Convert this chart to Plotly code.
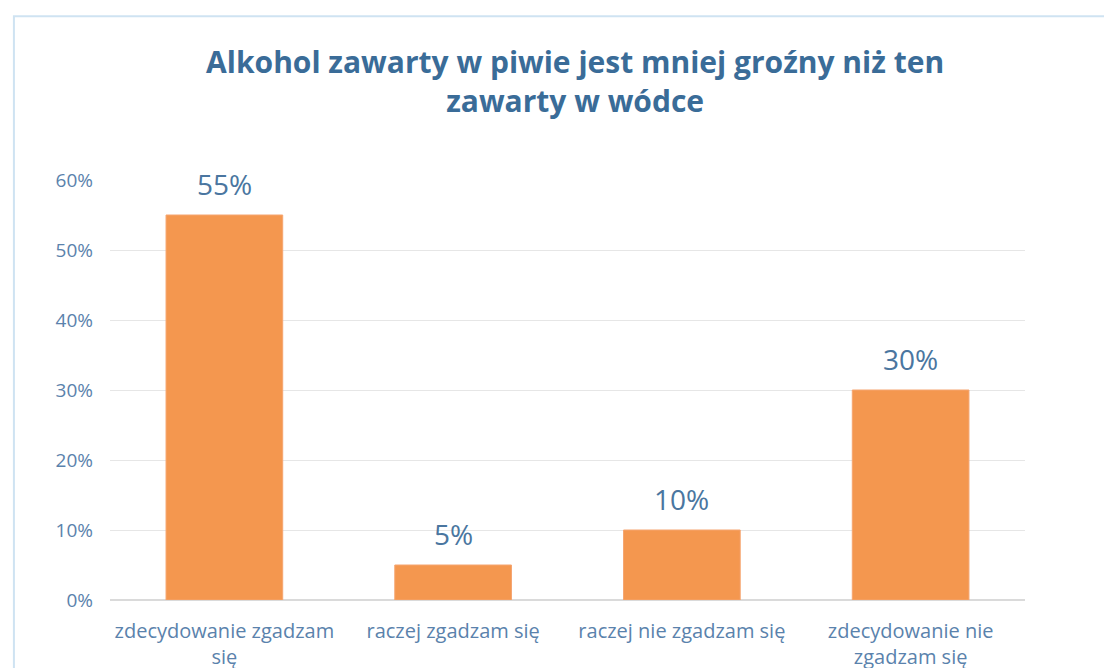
import plotly.graph_objects as go

categories = ["zdecydowanie zgadzam<br>się", "raczej zgadzam się",
              "raczej nie zgadzam się", "zdecydowanie nie<br>zgadzam się"]
shares = [0.55, 0.05, 0.10, 0.30]
tick_vals = [0, 0.1, 0.2, 0.3, 0.4, 0.5, 0.6]

blue = "#3A6C98"
label_blue = "#5A82AC"

fig = go.Figure()
fig.add_trace(go.Bar(
    x=categories, y=shares,
    marker=dict(color="#F4974F", line=dict(color="#F5A570", width=1)),
))

# value labels above bars
for c, v in zip(categories, shares):
    fig.add_annotation(x=c, y=v, text=f"{v:.0%}", showarrow=False,
                       yanchor="bottom", yshift=10,
                       font=dict(size=28, color="#4A76A0", family="Open Sans"))

fig.update_layout(
    width=1112, height=668,
    margin=dict(l=102, r=95, t=172, b=76),
    paper_bgcolor="white", plot_bgcolor="white",
    showlegend=False,
    bargap=0.49,
    title=dict(
        text="<b>Alkohol zawarty w piwie jest mniej groźny niż ten<br>zawarty w wódce</b>",
        x=0.51, xanchor="center", y=0.902, yanchor="middle",
        font=dict(family="Open Sans", size=30, color=blue),
    ),
    font=dict(family="Open Sans"),
)
fig.update_yaxes(
    range=[0, 0.6], tickvals=tick_vals, tickformat=".0%",
    showgrid=True, gridcolor="#E6E6E6", zeroline=True, zerolinecolor="#DADADA",
    tickfont=dict(size=19, color=label_blue), ticks="",
    ticklabelstandoff=16, showline=False, automargin=False,
)
fig.update_xaxes(
    tickfont=dict(size=20, color=label_blue), showline=False, ticks="",
    ticklabelstandoff=17, automargin=False,
)
fig.add_shape(type="rect", xref="paper", yref="paper",
              x0=-0.105, x1=1.2, y0=-0.3, y1=1.39,
              line=dict(color="#CFE3F2", width=2))

fig.write_html("out.html")
